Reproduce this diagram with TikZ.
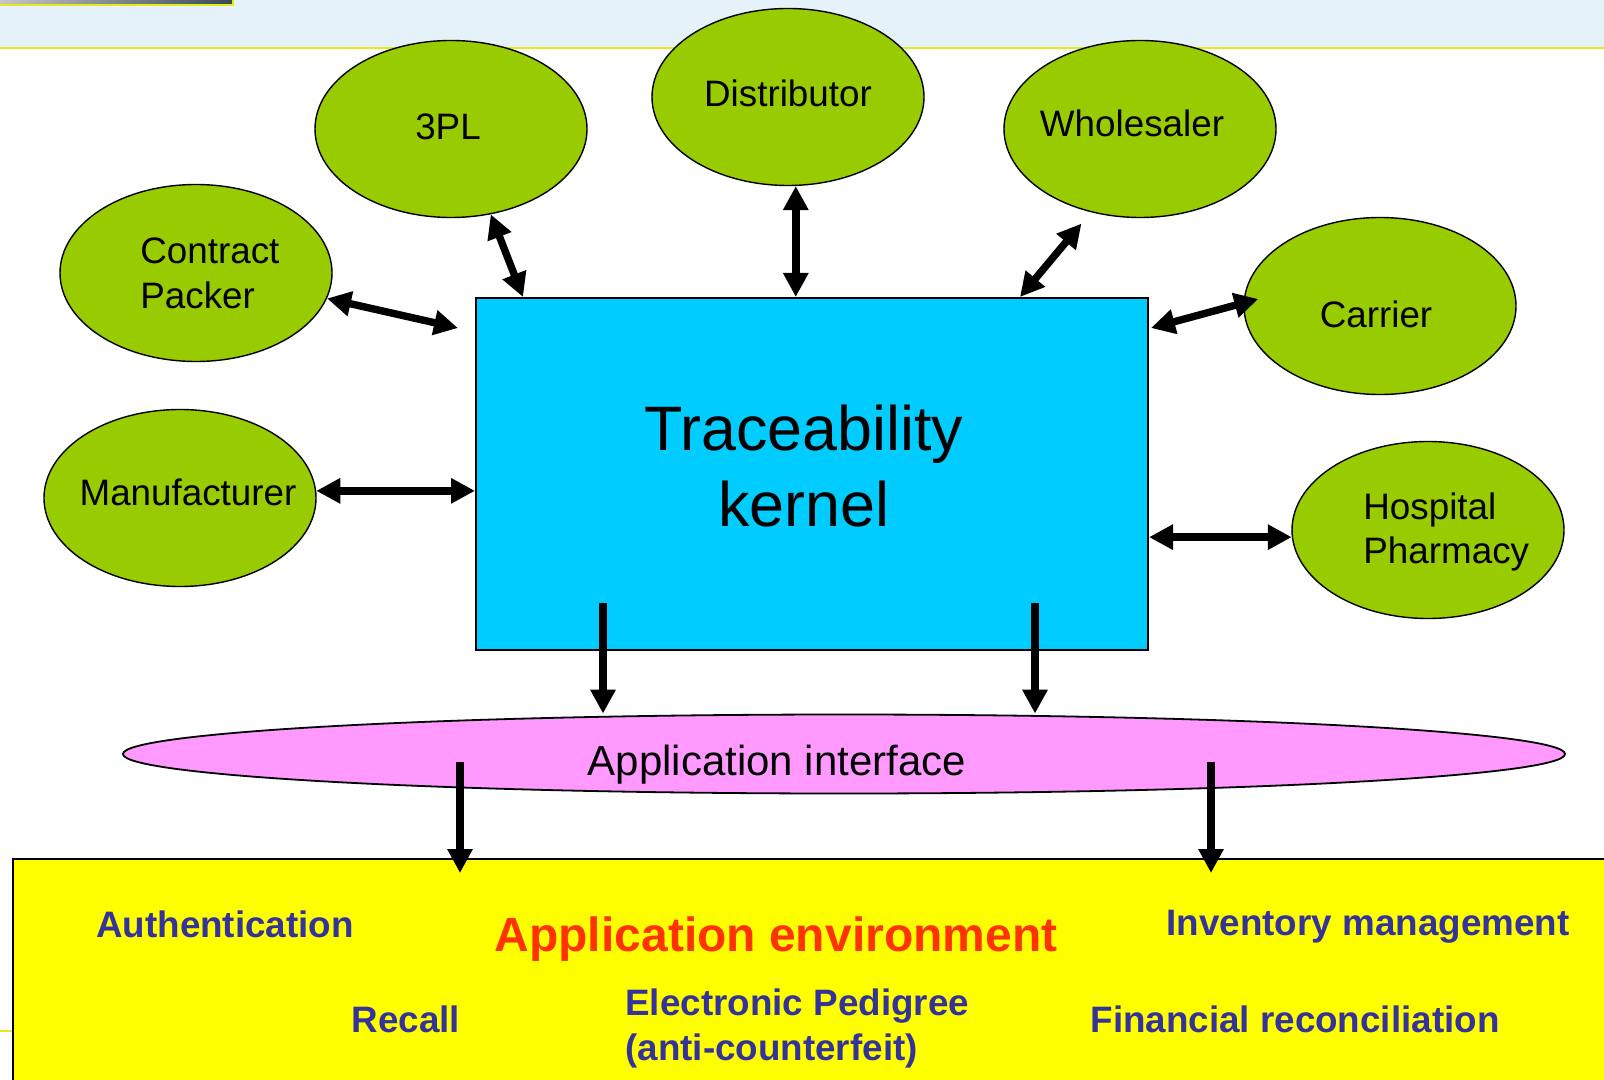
\documentclass[tikz,border=0pt]{standalone}
\usepackage{fontspec}
\setmainfont{Liberation Sans}
\usetikzlibrary{arrows.meta,shapes.geometric,calc}
\definecolor{partygreen}{RGB}{153,204,0}
\definecolor{kernelblue}{RGB}{0,204,255}
\definecolor{apipink}{RGB}{255,153,255}
\definecolor{envyellow}{RGB}{255,255,0}
\definecolor{headblue}{RGB}{230,242,250}
\definecolor{headline}{RGB}{232,232,28}
\definecolor{itemblue}{RGB}{51,51,153}
\definecolor{titlered}{RGB}{255,51,0}
\definecolor{photodark}{RGB}{55,75,85}
\tikzset{%
  >={Triangle[width=12pt,length=12pt]},
  % Specifications for style of nodes:
        party/.style = {ellipse, draw=black, line width=0.7pt, fill=partygreen,
                        minimum width=136pt, minimum height=88.5pt, inner sep=0pt},
    partytext/.style = {font=\fontsize{18.4}{22}\selectfont, align=left, inner sep=0pt},
    kernelbox/.style = {rectangle, draw=black, line width=1pt, fill=kernelblue,
                        minimum width=336pt, minimum height=176pt, inner sep=0pt},
     apiring/.style = {ellipse, draw=black, line width=0.9pt, fill=apipink,
                        minimum width=721pt, minimum height=39.5pt, inner sep=0pt},
      envbox/.style = {rectangle, draw=black, line width=0.9pt, fill=envyellow,
                        minimum width=850pt, minimum height=150pt, inner sep=0pt,
                        anchor=north west},
    itemtext/.style = {font=\bfseries\fontsize{18.4}{22.5}\selectfont, text=itemblue,
                        align=left, inner sep=0pt},
        link/.style = {line width=3.7pt},
}

\begin{document}
\begin{tikzpicture}[x=0.5pt, y=-0.5pt]
  \useasboundingbox (0,0) rectangle (1604,1080);

  % slide header and footer
  \fill[headblue] (0,0) rectangle (1604,48);
  \draw[headline, line width=1.2pt] (0,48) -- (1604,48);
  \shade[left color=gray!45, right color=photodark] (0,0) rectangle (232,4);
  \draw[headline, line width=1pt] (0,5) -- (233,5) -- (233,0);
  \draw[headline, line width=1pt] (0,1031) -- (12,1031);

  % Specification of nodes (position, etc.)
  \node (tpl)     [party] at (451,129) {};
  \node (distr)   [party] at (788,97)  {};
  \node (whole)   [party] at (1140,129) {};
  \node (cpack)   [party] at (196,273) {};
  \node (carrier) [party] at (1380,306) {};
  \node (manuf)   [party] at (180,498) {};
  \node (hosp)    [party] at (1428,530) {};
  \node (kernel)  [kernelbox] at (812,474) {};
  \node (api)     [apiring] at (844,754) {};
  \node (env)     [envbox] at (12,858) {};

  \node (tpltext)     [partytext, anchor=base] at (448,140) {3PL};
  \node (distrtext)   [partytext, anchor=base] at (788,107) {Distributor};
  \node (wholetext)   [partytext, anchor=base] at (1132,137) {Wholesaler};
  \node (cpacktext)   [partytext, anchor=base west] at (140,308) {Contract\\Packer};
  \node (carriertext) [partytext, anchor=base] at (1376,328) {Carrier};
  \node (manuftext)   [partytext, anchor=base] at (188,505) {Manufacturer};
  \node (hosptext)    [partytext, anchor=base west] at (1363,563) {Hospital\\Pharmacy};
  \node (kerneltext)  [anchor=base, align=center, inner sep=0pt,
                       font=\fontsize{31.4}{38}\selectfont] at (804,526) {Traceability\\kernel};
  \node (apitext)     [anchor=base, inner sep=0pt, font=\fontsize{21}{25}\selectfont]
                      at (777,775) {Application interface};

  \node (envtitle) [anchor=base, inner sep=0pt, text=titlered,
                    font=\bfseries\fontsize{24}{28}\selectfont] at (776,951) {Application environment};
  \node (auth)   [itemtext, anchor=base] at (225,937) {Authentication};
  \node (invent) [itemtext, anchor=base] at (1368,935) {Inventory management};
  \node (recall) [itemtext, anchor=base] at (406,1032) {Recall};
  \node (pedig)  [itemtext, anchor=base west] at (625,1060) {Electronic Pedigree\\(anti-counterfeit)};
  \node (finrec) [itemtext, anchor=base] at (1295,1032) {Financial reconciliation};

  % Specification of lines between nodes specified above
  \draw[link, <->] (cpack.-11) -- ($(kernel.north west)+(-17,31)$);
  \draw[link, <->] (tpl.-65) -- ($(kernel.north west)+(48,0)$);
  \draw[link, <->] (distr.-85) -- (distr.-85 |- kernel.north);
  \draw[link, <->] ($(whole.-126)+(0,14)$) -- ($(kernel.north west)+(545,0)$);
  \draw[link, <->] ($(carrier.west)+(15,-7)$) -- ($(kernel.north east)+(2,31)$);
  \draw[link, <->] (manuf.3) -- (manuf.3 -| kernel.west);
  \draw[link, <->] (kernel.east |- hosp.183) -- (hosp.183);

  \coordinate (kl) at ($(kernel.south west)+(128,-48)$);
  \coordinate (kr) at ($(kernel.south west)+(560,-48)$);
  \draw[link, ->] (kl) -- (kl |- api.north);
  \draw[link, ->] (kr) -- (kr |- api.north);

  \coordinate (al) at ($(api.center)+(-384,8)$);
  \coordinate (ar) at ($(api.center)+(367,8)$);
  \draw[link, ->] (al) -- ($(al |- env.north)+(0,15)$);
  \draw[link, ->] (ar) -- ($(ar |- env.north)+(0,15)$);
\end{tikzpicture}
\end{document}
